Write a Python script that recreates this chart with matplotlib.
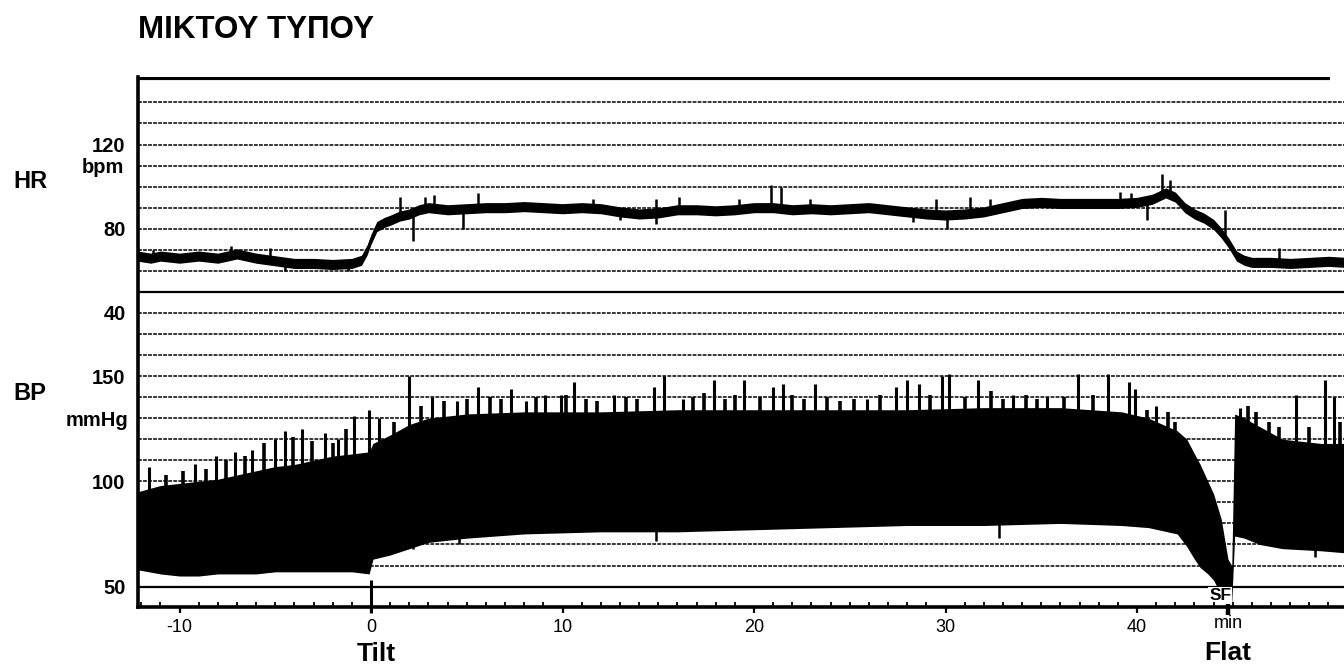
import numpy as np
import matplotlib
matplotlib.use("Agg")
import matplotlib.pyplot as plt
from matplotlib import transforms

plt.rcParams['font.family'] = ['Liberation Sans', 'DejaVu Sans']

# ---- values (time in min, HR in bpm, BP in mmHg) ----
hr_t = [-12.2, -11.5, -11, -10, -9, -8, -7.5, -7, -6, -5.2,
        -4, -3, -2, -1, -0.5, -0.2, 0, 0.3, 0.7, 1.0,
        1.5, 2.0, 2.5, 3, 4, 5, 6, 7, 8, 9,
        10, 11, 12, 13, 14, 15, 16, 17, 18, 19,
        20, 21, 22, 23, 24, 25, 26, 27, 28, 29,
        30, 31, 32, 33, 34, 35, 36, 37, 38, 39,
        40, 40.8, 41.5, 42.0, 42.5, 43, 43.5, 44.0, 44.4, 44.8,
        45.2, 45.6, 46, 47, 48, 49, 50, 50.9]
hr_bpm = [67, 66, 67, 66, 67, 66, 67, 68, 66, 65,
          63.5, 63.5, 63, 63.5, 65, 70, 75, 81, 83, 84,
          86, 87, 89, 90, 89, 89.5, 90, 90, 90.5, 90,
          89.5, 90, 89.5, 88, 87, 87.5, 89, 89, 88.5, 89,
          90, 90, 89, 89.5, 89, 89.5, 90, 89, 88, 87,
          86.5, 87, 88, 90, 92, 92.5, 92, 92, 92, 92,
          92.5, 94, 97, 95, 90, 87, 85, 82, 78, 73,
          67, 65, 64, 64, 63.5, 64, 64.5, 64]

hr_spike_t = [-11.4, -7.3, -5.3, 1.5, 2.8, 3.3, 5.6, 11.6, 14.9, 16.1, 19.2, 20.9,
              21.4, 22.9, 29.5, 31.3, 32.3, 39.1, 39.7, 41.3, 41.7, 44.6, 47.4]
hr_spike_top = [70, 72, 71, 95, 95, 96, 97, 94, 94, 95, 94, 101,
                100, 94, 94, 95, 94, 97.5, 97, 106, 103, 89, 71]
hr_dip_t = [-4.5, -1.2, 2.2, 4.8, 13.0, 14.9, 28.3, 30.1, 40.5]
hr_dip_low = [60, 60, 74, 80, 84, 82, 83, 80, 84]

bp_t = [-12.2, -11, -10, -9, -8, -7, -6, -5, -4, -3,
        -2, -1, -0.1, 0.1, 1, 2, 3, 5, 8, 12,
        16, 20, 24, 28, 32, 36, 39.2, 40.6, 42.1, 42.6,
        43.0, 43.3, 43.7, 44.0, 44.4, 44.75, 44.95, 45.1, 45.6, 46.4,
        47.6, 49.6, 50.9]
bp_sys = [95, 98, 99, 100, 101, 103, 105, 107, 108, 110,
          112, 113, 114, 118, 122, 127, 130, 132, 133, 133,
          134, 134, 134, 134, 135, 135, 133, 130, 124, 120,
          113, 108, 100, 94, 82, 63, 60, 132, 130, 126,
          120, 118, 118]
bp_dia = [58, 56, 55, 55, 56, 56, 56, 57, 57, 57,
          57, 57, 56, 63, 65, 68, 71, 73, 75, 76,
          76, 77, 78, 79, 79, 80, 79, 78, 75, 69,
          63, 59, 56, 53, 46, 43, 43, 74, 73, 70,
          68, 67, 66]

# tall systolic spikes
bp_spike_t = [-11.6, -9.2, -8.1, -7.1, -6.2, -5.0, -4.5, -3.6, -2.4, -1.7,
              -0.9, -0.1, 0.4, 2.0, 3.2, 4.5, 5.6, 7.3, 8.1, 9.1,
              9.9, 10.6, 12.7, 14.8, 15.3, 16.3, 17.9, 19.5, 21.0, 21.5,
              23.2, 25.9, 27.4, 28.0, 28.6, 29.8, 30.2, 31.7, 33.5, 35.3,
              36.9, 38.5, 39.6, 39.9, 41.0, 45.4, 48.3, 49.8, 50.3]
bp_spike_top = [107, 108, 112, 114, 115, 120, 124, 125, 123, 120,
                131, 134, 130, 150, 140, 138, 145, 144, 138, 141,
                141, 147, 141, 145, 150, 139, 148, 148, 145, 146,
                146, 139, 145, 148, 146, 150, 151, 148, 141, 140,
                151, 151, 147, 144, 136, 135, 141, 148, 140]
# shorter peaks that make the ragged upper edge
bp_peak_t = [-10.7, -9.8, -8.6, -7.6, -6.6, -5.6, -4.1, -3.1, -2.0, -1.3,
             1.2, 2.6, 3.8, 5.0, 6.2, 6.8, 8.6, 10.2, 11.2, 11.8, 13.3, 13.9,
             16.8, 17.4, 18.5, 19.0, 20.3, 22.0, 22.6, 23.8, 24.5, 25.2,
             26.6, 29.2, 31.0, 32.4, 33.0, 34.2, 34.8, 36.2, 37.7, 40.5,
             41.6, 42.0, 45.8, 46.2, 46.9, 47.4, 49.0, 50.6]
bp_peak_top = [103, 105, 106, 110, 112, 118, 121, 119, 118, 125,
               128, 136, 138, 139, 140, 139, 140, 141, 139, 138, 140, 139,
               140, 142, 139, 141, 140, 141, 139, 140, 138, 139,
               141, 141, 140, 143, 139, 141, 139, 140, 141, 134,
               133, 128, 136, 133, 128, 126, 126, 128]
bp_drip_t = [2.2, 4.6, 14.9, 32.8, 49.3]
bp_drip_low = [68, 70, 71.5, 73, 64]

x_major = [-10, 0, 10, 20, 30, 40]
x_labels = ["-10", "0", "10", "20", "30", "40"]
hr_ticks = [120, 80, 40]
bp_ticks = [150, 100, 50]
tilt_t, flat_t = 0.0, 44.75

W, H = 1344, 668
fig = plt.figure(figsize=(W / 100, H / 100), dpi=100)
rect = [138 / W, 1 - 607 / H, 1 - 138 / W, (607 - 77) / H]


def fpx(x, y):
    return x / W, 1 - y / H


# BP layer (bottom) carries the chart grid; HR layer on top carries the frame
ax_bp = fig.add_axes(rect)
ax_hr = fig.add_axes(rect, sharex=ax_bp)
ax_bp.set_zorder(0)
ax_hr.set_zorder(1)
ax_hr.patch.set_visible(False)

ax_hr.set_xlim(-12.17, 50.81)
ax_hr.set_ylim(-99.71, 152.07)
ax_bp.set_ylim(40.29, 292.07)

# grid: one row every 10 units (HR 50 and BP 50 rows drawn solid)
for v in range(50, 290, 10):
    if v in (50, 190):
        ax_bp.axhline(v, color='black', lw=1.6, zorder=1)
    else:
        ax_bp.axhline(v, color='black', lw=1.1, ls=(0, (2.5, 0.8)), zorder=1)

bp_sys = np.array(bp_sys)
bp_dia = np.array(bp_dia)
ax_bp.fill_between(bp_t, bp_dia, bp_sys, color='black', lw=0, zorder=2)
ax_bp.vlines(bp_spike_t, 90, bp_spike_top, color='black', lw=2.2, zorder=2)
ax_bp.vlines(bp_peak_t, 90, bp_peak_top, color='black', lw=2.6, zorder=2)
ax_bp.vlines(bp_drip_t, bp_drip_low, 90, color='black', lw=1.8, zorder=2)

hr = np.array(hr_bpm)
ax_hr.fill_between(hr_t, hr - 2.4, hr + 2.4, color='black', lw=0)
ax_hr.plot(hr_t, hr, color='black', lw=1.2)
base_up = np.interp(hr_spike_t, hr_t, hr)
base_dn = np.interp(hr_dip_t, hr_t, hr)
ax_hr.vlines(hr_spike_t, base_up, hr_spike_top, color='black', lw=1.8)
ax_hr.vlines(hr_dip_t, hr_dip_low, base_dn, color='black', lw=1.8)

# heavy top rule
ax_hr.hlines(151.4, -12.17, 50.1, color='black', lw=3)

# event markers
ax_bp.vlines(tilt_t, 37.5, 53, color='black', lw=2.2, clip_on=False, zorder=3)
ax_bp.vlines(flat_t, 36.5, 56, color='black', lw=3.2, clip_on=False, zorder=3)

for a in (ax_hr, ax_bp):
    for s in ('top', 'right'):
        a.spines[s].set_visible(False)
for s in ('left', 'bottom'):
    ax_bp.spines[s].set_visible(False)
ax_hr.spines['left'].set_linewidth(2.6)
ax_hr.spines['bottom'].set_linewidth(2.6)

ax_bp.tick_params(axis='x', which='both', bottom=False, labelbottom=False)
ax_hr.set_xticks(x_major)
ax_hr.set_xticklabels(x_labels, fontsize=13)
ax_hr.set_xticks(np.arange(-12, 51, 1), minor=True)
ax_hr.tick_params(axis='x', which='major', direction='out', length=4.5, width=1.6, pad=4)
ax_hr.tick_params(axis='x', which='minor', direction='in', length=3.5, width=1.3)

ax_hr.set_yticks(hr_ticks)
ax_hr.set_yticklabels([str(v) for v in hr_ticks], fontsize=14.5, fontweight='bold')
ax_hr.tick_params(axis='y', length=0, pad=9)
ax_bp.set_yticks(bp_ticks)
ax_bp.set_yticklabels([str(v) for v in bp_ticks], fontsize=14.5, fontweight='bold')
ax_bp.tick_params(axis='y', length=0, pad=9)

# texts
fig.text(*fpx(138, 38), "ΜΙΚΤΟΥ ΤΥΠΟΥ", fontsize=22.5, fontweight='bold',
         ha='left', va='baseline')
fig.text(*fpx(13, 188), "HR", fontsize=17, fontweight='bold', ha='left', va='baseline')
fig.text(*fpx(124, 173), "bpm", fontsize=14.5, fontweight='bold', ha='right', va='baseline')
fig.text(*fpx(13, 400), "BP", fontsize=17, fontweight='bold', ha='left', va='baseline')
fig.text(*fpx(128, 426), "mmHg", fontsize=14.5, fontweight='bold', ha='right', va='baseline')

tx = transforms.blended_transform_factory(ax_hr.transData, fig.transFigure)
ax_hr.text(tilt_t + 0.3, 1 - 661 / H, "Tilt", transform=tx, fontsize=19,
           fontweight='bold', ha='center', va='baseline')
ax_hr.text(flat_t, 1 - 660 / H, "Flat", transform=tx, fontsize=19,
           fontweight='bold', ha='center', va='baseline')
ax_hr.text(flat_t, 1 - 628 / H, "min", transform=tx, fontsize=13,
           ha='center', va='baseline')
ax_bp.text(flat_t - 0.4, 1 - 600 / H, "SF", transform=tx, fontsize=12.5,
           fontweight='bold', ha='center', va='baseline', zorder=4,
           bbox=dict(boxstyle='square,pad=0.05', fc='white', ec='none'))

fig.savefig("out.png", dpi=100)
